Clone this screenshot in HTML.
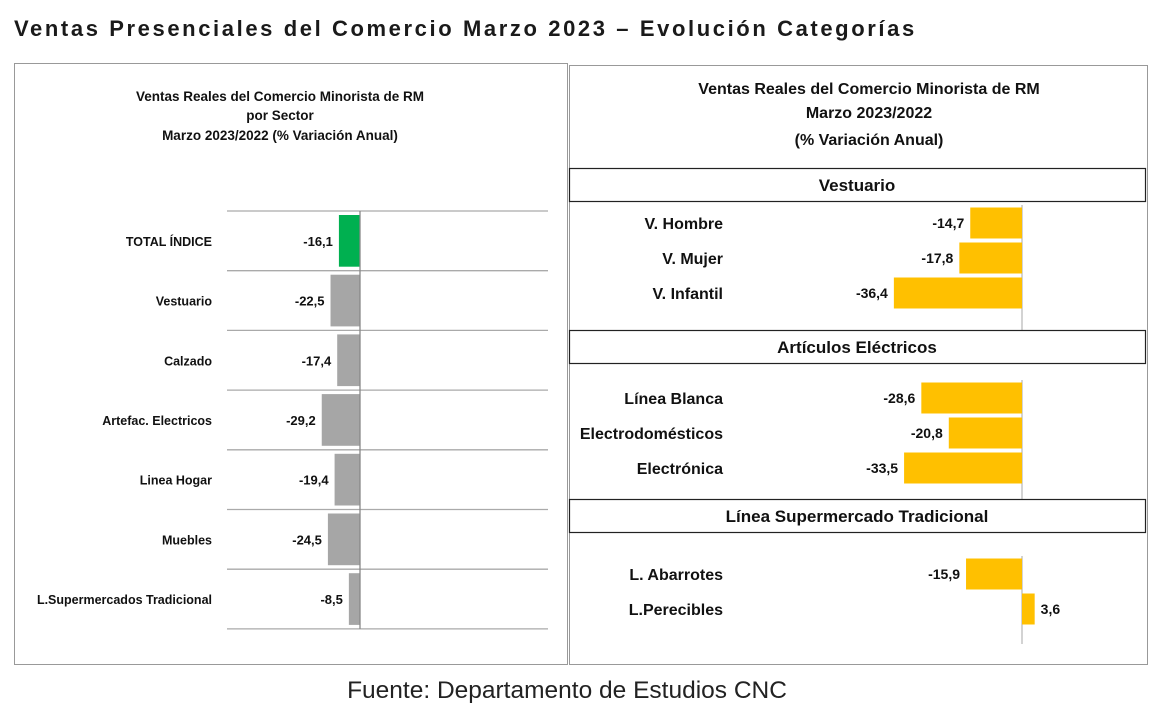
<!DOCTYPE html>
<html><head><meta charset="utf-8"><style>
body{margin:0;background:#fff;width:1158px;height:715px;overflow:hidden;font-family:"Liberation Sans",sans-serif}
svg text{font-family:"Liberation Sans",sans-serif}
</style></head><body>
<svg width="1158" height="715">
<text x="14" y="36" font-size="22" font-weight="bold" letter-spacing="2.6" fill="#1a1a1a">Ventas Presenciales del Comercio Marzo 2023 – Evolución Categorías</text>
<rect x="14.5" y="63.5" width="553" height="601" fill="none" stroke="#999"/>
<rect x="569.5" y="65.5" width="578" height="599" fill="none" stroke="#999"/>
<g font-size="13.5" font-weight="bold" text-anchor="middle" fill="#111">
<text x="280" y="101">Ventas Reales del Comercio Minorista de RM</text>
<text x="280" y="120">por Sector</text>
<text x="280" y="140">Marzo 2023/2022 (% Variación Anual)</text>
</g>
<g font-size="16" font-weight="bold" text-anchor="middle" fill="#111">
<text x="869" y="94">Ventas Reales del Comercio Minorista de RM</text>
<text x="869" y="118">Marzo 2023/2022</text>
<text x="869" y="145">(% Variación Anual)</text>
</g>
<g id="left"></g>
<g id="right"></g>
<text x="567" y="698" font-size="24.5" text-anchor="middle" fill="#222">Fuente: Departamento de Estudios CNC</text>
</svg>
<script>
const NS="http://www.w3.org/2000/svg";
const leftCategories=["TOTAL ÍNDICE","Vestuario","Calzado","Artefac. Electricos","Linea Hogar","Muebles","L.Supermercados Tradicional"];
const leftValues=[-16.1,-22.5,-17.4,-29.2,-19.4,-24.5,-8.5];
const rightGroups=["Vestuario","Artículos Eléctricos","Línea Supermercado Tradicional"];
const rightCategories=[["V. Hombre","V. Mujer","V. Infantil"],["Línea Blanca","Electrodomésticos","Electrónica"],["L. Abarrotes","L.Perecibles"]];
const rightValues=[[-14.7,-17.8,-36.4],[-28.6,-20.8,-33.5],[-15.9,3.6]];
function mk(tag,attrs,parent,txt){const e=document.createElementNS(NS,tag);for(const k in attrs)e.setAttribute(k,attrs[k]);if(txt!=null)e.textContent=txt;parent.appendChild(e);return e;}
const fmt=v=>v.toFixed(1).replace(".",",");
// left
const L=document.getElementById("left");
const lx=v=>360+v*1.31, rowH=59.7, top0=211;
for(let i=0;i<=leftCategories.length;i++){
  const g=mk("line",{x1:227,x2:548,y1:top0+i*rowH,y2:top0+i*rowH,stroke:"#aaa","stroke-width":1.3},L);
  
  
}
leftCategories.forEach((c,i)=>{
  const y0=top0+i*rowH, v=leftValues[i];
  const b=mk("rect",{x:Math.min(lx(v),360),y:y0+4,width:Math.abs(lx(v)-360),height:rowH-8,fill:i===0?"#00b050":"#a6a6a6"},L);
  
  
  const t=mk("text",{x:Math.min(lx(v),360)-6,y:y0+rowH/2+5,"font-size":13,"font-weight":"bold","text-anchor":"end",fill:"#111"},L,fmt(v));
  
  
  const l=mk("text",{x:212,y:y0+rowH/2+5,"font-size":12.5,"font-weight":"bold","text-anchor":"end",fill:"#111"},L,c);
  
  
});
const la=mk("line",{x1:360,x2:360,y1:top0,y2:top0+rowH*leftCategories.length,stroke:"#888","stroke-width":1.3},L);


// right
const R=document.getElementById("right");
const rx=v=>1022+v*3.52;
const headerY=[168,330,499], firstRow=[223,398,574];
rightGroups.forEach((gname,gi)=>{
  const h=mk("rect",{x:569.5,y:headerY[gi]+0.5,width:576,height:33,fill:"#fff",stroke:"#222","stroke-width":1.2},R);
  
  
  const ht=mk("text",{x:857,y:headerY[gi]+23,"font-size":17,"font-weight":"bold","text-anchor":"middle",fill:"#111"},R,gname);
  
  
  const n=rightCategories[gi].length;
  const ax=mk("line",{x1:1022,x2:1022,y1:firstRow[gi]-18,y2:firstRow[gi]+35*n+(gi===2?0:2),stroke:"#bbb","stroke-width":1.3},R);
  
  
  rightCategories[gi].forEach((c,i)=>{
    const cy=firstRow[gi]+i*35, v=rightValues[gi][i];
    const b=mk("rect",{x:Math.min(rx(v),1022),y:cy-15.5,width:Math.abs(rx(v)-1022),height:31,fill:"#ffc000"},R);
    
    
    const t=mk("text",{x:v<0?rx(v)-6:rx(v)+6,y:cy+5,"font-size":14,"font-weight":"bold","text-anchor":v<0?"end":"start",fill:"#111"},R,fmt(v));
    
    
    const l=mk("text",{x:723,y:cy+6,"font-size":16,"font-weight":"bold","text-anchor":"end",fill:"#111"},R,c);
    
    
  });
});
</script>
</body></html>
